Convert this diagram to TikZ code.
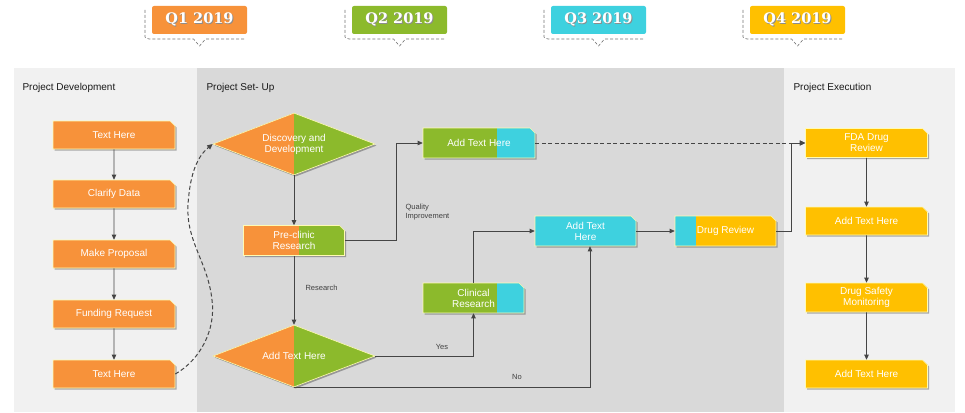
\documentclass[tikz,border=0pt]{standalone}
\usepackage{fontspec}
\setmainfont{Liberation Sans}
\newfontfamily\qfont{DejaVu Serif}
\usetikzlibrary{shapes.geometric,shapes.misc,arrows.meta,shadows,calc}
\definecolor{cor}{HTML}{F7923A}
\definecolor{cgr}{HTML}{8CBA2C}
\definecolor{ccy}{HTML}{3ED1DF}
\definecolor{cyl}{HTML}{FFC000}
\definecolor{plight}{HTML}{F1F1F1}
\definecolor{pdark}{HTML}{D9D9D9}
\definecolor{cline}{HTML}{454545}
\newcommand\shadowedtext[1]{\leavevmode\rlap{\hspace{0.8pt}\raisebox{-0.8pt}{\textcolor{black!45}{#1}}}#1}
\tikzset{
  boxbase/.style={chamfered rectangle, chamfered rectangle corners=north east,
    chamfered rectangle xsep=2.5pt, chamfered rectangle ysep=2.5pt,
    inner sep=1pt, draw=white!70!yellow, line width=0.6pt, text=white,
    font=\fontsize{10}{11}\selectfont, align=center,
    drop shadow={shadow xshift=1.6pt, shadow yshift=-1.6pt, opacity=0.3, fill=black}},
  lbox/.style={boxbase, minimum width=122pt, minimum height=28pt},
  mbox/.style={boxbase, minimum width=101pt, minimum height=30pt},
  dia/.style={diamond, aspect=2.6, inner sep=0pt, minimum width=162pt, minimum height=62pt,
    draw=white!70!yellow, line width=0.6pt, text=white, align=center,
    font=\fontsize{10}{11}\selectfont,
    drop shadow={shadow xshift=1.6pt, shadow yshift=-1.6pt, opacity=0.3, fill=black}},
  two/.style n args={3}{fill=#2, path picture={\fill[#1] (path picture bounding box.south west) rectangle ($(path picture bounding box.north west)!#3!(path picture bounding box.north east)$);}},
  arr/.style={draw=cline, line width=0.7pt, -{Triangle[length=5pt,width=4.5pt]}},
  plain/.style={draw=cline, line width=0.7pt},
  dsh/.style={draw=cline, line width=1pt, dash pattern=on 4pt off 2.5pt, -{Triangle[length=5.5pt,width=5pt]}},
  small/.style={font=\fontsize{7.5}{9}\selectfont, text=black!75, align=left},
  ptitle/.style={font=\fontsize{10}{12}\selectfont, text=black!90, anchor=west},
  qbox/.style={rounded corners=2pt, minimum width=95pt, minimum height=28pt, inner sep=0pt,
    text=white, font=\qfont\bfseries\fontsize{14.5}{16}\selectfont},
  callout/.style={draw=black!55, line width=0.6pt, densely dashed}
}
\begin{document}
\begin{tikzpicture}[x=1pt,y=-1pt]
\useasboundingbox (0,0) rectangle (965,412);
% panels
\fill[plight] (14,68) rectangle (197,412);
\fill[pdark] (197,68) rectangle (784,412);
\fill[plight] (784,68) rectangle (955,412);
\node[ptitle] (t1) at (19,88) {Project Development};
\node[ptitle] (t2) at (203,88) {Project Set- Up};
\node[ptitle] (t3) at (790,88) {Project Execution};

% quarter callouts
\foreach \n/\cx/\col/\lab in {q1/199.5/cor/Q1 2019, q2/399.5/cgr/Q2 2019, q3/598.5/ccy/Q3 2019, q4/797.5/cyl/Q4 2019}{
  \draw[callout] ($(\cx,10)+(-54.5,0)$) -- ($(\cx,37)+(-54.5,0)$) [rounded corners=2pt] -- ($(\cx,39)+(-52.5,0)$) [sharp corners] -- (\cx-6,39) -- (\cx,46) -- (\cx+6,39) -- (\cx+46.5,39);
  \node[qbox, fill=\col] (\n) at (\cx,20) {\shadowedtext{\lab}};
}

% left column
\node[lbox, fill=cor] (pd1) at (114,135) {Text Here};
\node[lbox, fill=cor] (pd2) at (114,194) {Clarify Data};
\node[lbox, fill=cor] (pd3) at (114,254) {Make Proposal};
\node[lbox, fill=cor] (pd4) at (114,314) {Funding Request};
\node[lbox, fill=cor] (pd5) at (114,374) {Text Here};

% middle
\node[dia, two={cor}{cgr}{0.5}] (dd) at (294,144) {Discovery and\\Development};
\node[mbox, two={cor}{cgr}{0.545}] (pc) at (294,240.5) {Pre-clinic\\Research};
\node[dia, two={cor}{cgr}{0.5}] (d2) at (294,356) {Add Text Here};
\node[mbox, two={cgr}{ccy}{0.73}] (cr) at (473.5,298) {Clinical\\Research};
\node[boxbase, minimum width=112pt, minimum height=30pt, two={cgr}{ccy}{0.66}] (at1) at (479,143) {Add Text Here};
\node[mbox, fill=ccy] (at2) at (585.5,231) {Add Text\\Here};
\node[mbox, two={ccy}{cyl}{0.21}] (dr) at (725.5,231) {Drug Review};

% right column
\node[lbox, fill=cyl, minimum height=29pt] (fda) at (866.5,143) {FDA Drug\\Review};
\node[lbox, fill=cyl] (e2) at (866.5,221) {Add Text Here};
\node[lbox, fill=cyl, minimum height=29pt] (e3) at (866.5,297.5) {Drug Safety\\Monitoring};
\node[lbox, fill=cyl] (e4) at (866.5,374) {Add Text Here};

% left column arrows
\draw[arr] (pd1) -- (pd2);
\draw[arr] (pd2) -- (pd3);
\draw[arr] (pd3) -- (pd4);
\draw[arr] (pd4) -- (pd5);

% middle connectors
\draw[arr] (dd.south) -- (dd.south |- pc.north);
\draw[arr] (pc.south) -- (pc.south |- d2.north);
\node[small, anchor=west] (lres) at (302,288) {Research};
\coordinate (qi) at (396,240.5);
\draw[arr] (pc.east) -- (qi) |- (at1.west);
\node[small, anchor=west] (lqi) at (402,212) {Quality\\Improvement};
\draw[arr] (d2.east) -| (cr.south);
\node[small] (lyes) at (442,347) {Yes};
\draw[arr] (d2.south) -| ([xshift=4.5pt]at2.south);
\node[small] (lno) at (517,377) {No};
\draw[arr] (cr.north) |- (at2.west);
\draw[arr] (at2.east) -- (dr.west);
\coordinate (jn) at (791,231);
\draw[arr] (dr.east) -- (jn) |- (fda.west);
\draw[dsh] (at1.east) -- (fda.west);

% curved dashed
\draw[dsh] (pd5.east) .. controls (200,360) and (216,330) .. (212,300)
  .. controls (208,262) and (186,242) .. (188,205)
  .. controls (190,172) and (198,156) .. (dd.west);

% right column arrows
\draw[arr] (fda) -- (e2);
\draw[arr] (e2) -- (e3);
\draw[arr] (e3) -- (e4);
\end{tikzpicture}
\end{document}
